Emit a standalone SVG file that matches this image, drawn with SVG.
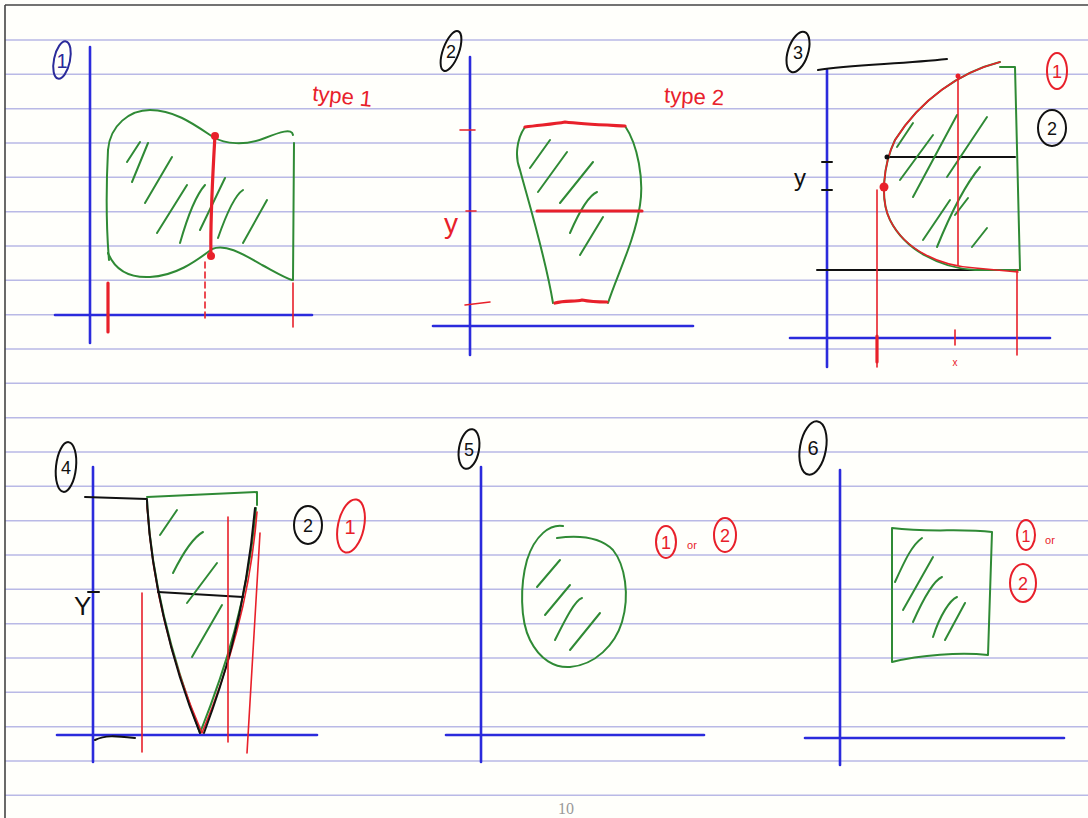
<svg xmlns="http://www.w3.org/2000/svg" width="1088" height="818" viewBox="0 0 1088 818">
<style>
.rule{stroke:#b9b9e6;stroke-width:1.6}
.axis{stroke:#2b2bdc;stroke-width:2.6;fill:none;stroke-linecap:round}
.g{stroke:#2f8a35;stroke-width:2;fill:none;stroke-linecap:round;stroke-linejoin:round}
.r{stroke:#e8202a;stroke-width:1.6;fill:none;stroke-linecap:round;stroke-linejoin:round}
.rt{stroke:#e8202a;stroke-width:3.2;fill:none;stroke-linecap:round;stroke-linejoin:round}
.k{stroke:#111;stroke-width:2;fill:none;stroke-linecap:round;stroke-linejoin:round}
.circK{stroke:#111;stroke-width:2;fill:none}
.circR{stroke:#e8202a;stroke-width:2;fill:none}
.circB{stroke:#2a2a9a;stroke-width:2;fill:none}
.t{font-family:"Liberation Sans",Arial,sans-serif}
.tr{fill:#e8202a}
.tk{fill:#111}
</style>
<rect x="0" y="0" width="1088" height="818" fill="#fffffb"/>
<g id="ruled-lines">
<line class="rule" x1="5" y1="40" x2="1088" y2="40"/>
<line class="rule" x1="5" y1="74.3" x2="1088" y2="74.3"/>
<line class="rule" x1="5" y1="108.7" x2="1088" y2="108.7"/>
<line class="rule" x1="5" y1="143" x2="1088" y2="143"/>
<line class="rule" x1="5" y1="177.3" x2="1088" y2="177.3"/>
<line class="rule" x1="5" y1="211.7" x2="1088" y2="211.7"/>
<line class="rule" x1="5" y1="246" x2="1088" y2="246"/>
<line class="rule" x1="5" y1="280.3" x2="1088" y2="280.3"/>
<line class="rule" x1="5" y1="314.7" x2="1088" y2="314.7"/>
<line class="rule" x1="5" y1="349" x2="1088" y2="349"/>
<line class="rule" x1="5" y1="383.3" x2="1088" y2="383.3"/>
<line class="rule" x1="5" y1="417.7" x2="1088" y2="417.7"/>
<line class="rule" x1="5" y1="452" x2="1088" y2="452"/>
<line class="rule" x1="5" y1="486.3" x2="1088" y2="486.3"/>
<line class="rule" x1="5" y1="520.7" x2="1088" y2="520.7"/>
<line class="rule" x1="5" y1="555" x2="1088" y2="555"/>
<line class="rule" x1="5" y1="589.3" x2="1088" y2="589.3"/>
<line class="rule" x1="5" y1="623.7" x2="1088" y2="623.7"/>
<line class="rule" x1="5" y1="658" x2="1088" y2="658"/>
<line class="rule" x1="5" y1="692.3" x2="1088" y2="692.3"/>
<line class="rule" x1="5" y1="726.7" x2="1088" y2="726.7"/>
<line class="rule" x1="5" y1="761" x2="1088" y2="761"/>
<line class="rule" x1="5" y1="795.3" x2="1088" y2="795.3"/>
</g>
<g id="border">
<line x1="5" y1="5" x2="1088" y2="5" stroke="#444" stroke-width="1.6"/>
<line x1="5" y1="5" x2="5" y2="818" stroke="#444" stroke-width="1.6"/>
</g>

<g id="panel1">
<ellipse class="circB" cx="62" cy="60" rx="8" ry="19" transform="rotate(12 62 60)"/>
<text class="t" x="62" y="68" font-size="20" fill="#2a2a9a" text-anchor="middle">1</text>
<line class="axis" x1="90" y1="47" x2="90" y2="343"/>
<line class="axis" x1="55" y1="315" x2="312" y2="315"/>
<path class="g" d="M108,150 C110,125 130,110 150,110 C175,110 195,125 213,137 C225,144 245,146 265,138 C280,132 292,128 293,135"/>
<path class="g" d="M294,143 L293,280"/>
<path class="g" d="M108,253 C115,270 130,278 150,277 C175,276 195,262 212,249 C225,244 240,252 262,265 C275,272 285,278 292,280"/>
<path class="g" d="M108,150 C106,190 106,225 109,260"/>
<path class="g" d="M127,162 L140,142 M132,182 L148,143 M145,203 L172,157 M157,233 L187,185 M180,243 C188,215 196,195 205,185 M200,230 L225,178 M218,238 C226,215 235,195 243,190 M243,243 L267,200"/>
<path class="rt" d="M215,135 C213,170 210,220 211,257"/>
<circle cx="215" cy="136" r="4" fill="#e8202a"/>
<circle cx="211" cy="256" r="4" fill="#e8202a"/>
<path class="r" d="M205,262 L205,322" stroke-dasharray="6 4"/>
<path class="rt" d="M108,283 L108,332" stroke-width="2.6"/>
<path class="r" d="M293,283 L293,327" stroke-width="2"/>
<text class="t tr" x="312" y="104" font-size="22" transform="rotate(6 345 100)">type 1</text>
</g>

<g id="panel2">
<ellipse class="circK" cx="451" cy="51" rx="8" ry="21" transform="rotate(20 451 51)"/>
<text class="t tk" x="451" y="58" font-size="18" text-anchor="middle">2</text>
<line class="axis" x1="470" y1="57" x2="470" y2="355"/>
<line class="axis" x1="433" y1="326" x2="693" y2="326"/>
<path class="r" d="M460,130 L475,130 M465,305 L490,302 M466,211 L476,211" stroke-width="2.4"/>
<text class="t tr" x="444" y="233" font-size="28">y</text>
<path class="g" d="M525,127 C516,140 515,158 520,170 C528,200 545,255 553,303"/>
<path class="g" d="M625,126 C638,145 644,180 640,205 C635,240 617,275 608,303"/>
<path class="g" d="M530,168 L550,140 M538,192 L567,152 M560,203 L593,162 M570,233 C580,210 590,195 597,192 M580,255 L603,217"/>
<path class="rt" d="M525,127 C540,125 555,124 565,122 C580,124 605,125 625,126"/>
<path class="rt" d="M537,211 L642,211"/>
<path class="rt" d="M555,303 C565,300 575,302 582,300 C592,302 600,302 607,302"/>
<text class="t tr" x="664" y="104" font-size="22" transform="rotate(3 695 100)">type 2</text>
</g>

<g id="panel3">
<ellipse class="circK" cx="798" cy="52" rx="10" ry="21" transform="rotate(18 798 52)"/>
<text class="t tk" x="798" y="59" font-size="18" text-anchor="middle">3</text>
<line class="axis" x1="827" y1="70" x2="827" y2="367"/>
<line class="axis" x1="790" y1="338" x2="1050" y2="338"/>
<path class="k" d="M818,70 C850,65 900,64 947,59" stroke-width="1.6"/>
<path class="k" d="M817,270 L1020,270" stroke-width="1.6"/>
<path class="k" d="M887,157 L1015,157"/>
<path class="k" d="M822,162 L832,162 M822,190 L832,190" stroke-width="3"/>
<text class="t tk" x="794" y="186" font-size="24">y</text>
<path class="g" d="M1000,62 C960,72 920,100 895,140 C883,165 880,200 890,220 C905,250 940,268 975,270 L1020,270"/>
<path class="g" d="M1000,67 L1015,67 L1020,270"/>
<path class="r" d="M1000,62 C960,72 920,100 895,140 C883,165 880,200 890,220 C905,250 940,266 975,268 L1018,272" stroke-width="1.8"/>
<path class="g" d="M897,147 L913,123 M900,180 L933,135 M913,197 L957,115 M947,177 L987,117 M923,240 L950,200 M937,247 C950,215 965,185 980,167 M955,215 L968,198 M972,247 L987,228"/>
<path class="r" d="M958,76 L958,265"/>
<circle cx="958" cy="76" r="2.5" fill="#e8202a"/>
<circle cx="884" cy="187" r="4.5" fill="#e8202a"/>
<circle cx="887" cy="157" r="2.5" fill="#111"/>
<path class="r" d="M877,190 L877,367"/>
<path class="rt" d="M877,336 L877,362" stroke-width="2.6"/>
<path class="r" d="M1017,270 L1017,355"/>
<path class="r" d="M955,330 L955,345"/>
<text class="t tr" x="955" y="366" font-size="10" text-anchor="middle">x</text>
<ellipse class="circR" cx="1057" cy="71" rx="10" ry="18"/>
<text class="t tr" x="1057" y="78" font-size="18" text-anchor="middle">1</text>
<ellipse class="circK" cx="1052" cy="128" rx="14" ry="18"/>
<text class="t tk" x="1052" y="135" font-size="18" text-anchor="middle">2</text>
</g>

<g id="panel4">
<ellipse class="circK" cx="66" cy="467" rx="10" ry="25" transform="rotate(6 66 467)"/>
<text class="t tk" x="66" y="474" font-size="18" text-anchor="middle">4</text>
<line class="axis" x1="93" y1="467" x2="93" y2="762"/>
<line class="axis" x1="57" y1="735" x2="317" y2="735"/>
<path class="k" d="M85,497 L147,499" stroke-width="1.8"/>
<path class="g" d="M147,497 L257,492 L257,505"/>
<path class="g" d="M147,500 C150,560 165,640 200,733 C225,670 248,600 256,508" stroke-width="2.6"/>
<path class="r" d="M147,505 C152,580 170,660 202,733 C228,670 250,600 257,512" stroke-width="1.8"/>
<path class="k" d="M147,500 C150,570 170,660 200,733 M204,733 C220,690 245,620 255,508" stroke-width="2.4"/>
<path class="k" d="M158,592 L243,597"/>
<path class="k" d="M88,592 L99,592" stroke-width="1.8"/>
<text class="t tk" x="74" y="615" font-size="26">Y</text>
<path class="k" d="M95,740 C105,735 115,736 135,738" stroke-width="2.2"/>
<path class="g" d="M160,535 L177,510 M173,573 C182,555 192,538 203,532 M187,603 L217,563 M192,657 L222,605"/>
<path class="r" d="M142,593 L142,752"/>
<path class="r" d="M228,517 L228,742"/>
<path class="r" d="M260,533 L247,753"/>
<ellipse class="circK" cx="308" cy="525" rx="14" ry="19"/>
<text class="t tk" x="308" y="532" font-size="18" text-anchor="middle">2</text>
<ellipse class="circR" cx="351" cy="526" rx="13" ry="27" transform="rotate(12 351 526)"/>
<text class="t tr" x="350" y="534" font-size="20" text-anchor="middle">1</text>
</g>

<g id="panel5">
<ellipse class="circK" cx="469" cy="449" rx="10" ry="20" transform="rotate(10 469 449)"/>
<text class="t tk" x="469" y="456" font-size="18" text-anchor="middle">5</text>
<line class="axis" x1="481" y1="467" x2="481" y2="762"/>
<line class="axis" x1="446" y1="735" x2="704" y2="735"/>
<path class="g" d="M563,526 C550,524 535,535 527,560 C520,585 520,620 530,640 C540,660 555,668 570,667 C595,665 615,645 622,622 C630,595 625,565 613,550 C600,537 580,535 557,538"/>
<path class="g" d="M537,587 L560,560 M545,615 L570,585 M555,640 C565,620 575,600 582,598 M570,650 L600,613"/>
<ellipse class="circR" cx="666" cy="542" rx="10" ry="16"/>
<text class="t tr" x="666" y="549" font-size="18" text-anchor="middle">1</text>
<text class="t tr" x="692" y="549" font-size="11" text-anchor="middle">or</text>
<ellipse class="circR" cx="725" cy="535" rx="11" ry="17"/>
<text class="t tr" x="725" y="542" font-size="18" text-anchor="middle">2</text>
</g>

<g id="panel6">
<ellipse class="circK" cx="813" cy="448" rx="13" ry="27" transform="rotate(10 813 448)"/>
<text class="t tk" x="813" y="455" font-size="20" text-anchor="middle">6</text>
<line class="axis" x1="840" y1="470" x2="840" y2="765"/>
<line class="axis" x1="805" y1="738" x2="1064" y2="738"/>
<path class="g" d="M892,528 C930,533 960,528 992,532 L988,655 C960,652 920,655 892,662 Z"/>
<path class="g" d="M895,582 C905,560 912,545 922,538 M903,610 L933,557 M913,622 C925,595 935,580 942,577 M933,637 C940,615 950,600 957,597 M945,640 L965,603"/>
<ellipse class="circR" cx="1026" cy="535" rx="9" ry="15"/>
<text class="t tr" x="1026" y="542" font-size="16" text-anchor="middle">1</text>
<text class="t tr" x="1050" y="544" font-size="11" text-anchor="middle">or</text>
<ellipse class="circR" cx="1023" cy="583" rx="13" ry="19"/>
<text class="t tr" x="1023" y="590" font-size="18" text-anchor="middle">2</text>
</g>

<g id="page-number">
<text x="566" y="814" font-family="'Liberation Serif',serif" font-size="16" fill="#999" text-anchor="middle">10</text>
</g>
</svg>
